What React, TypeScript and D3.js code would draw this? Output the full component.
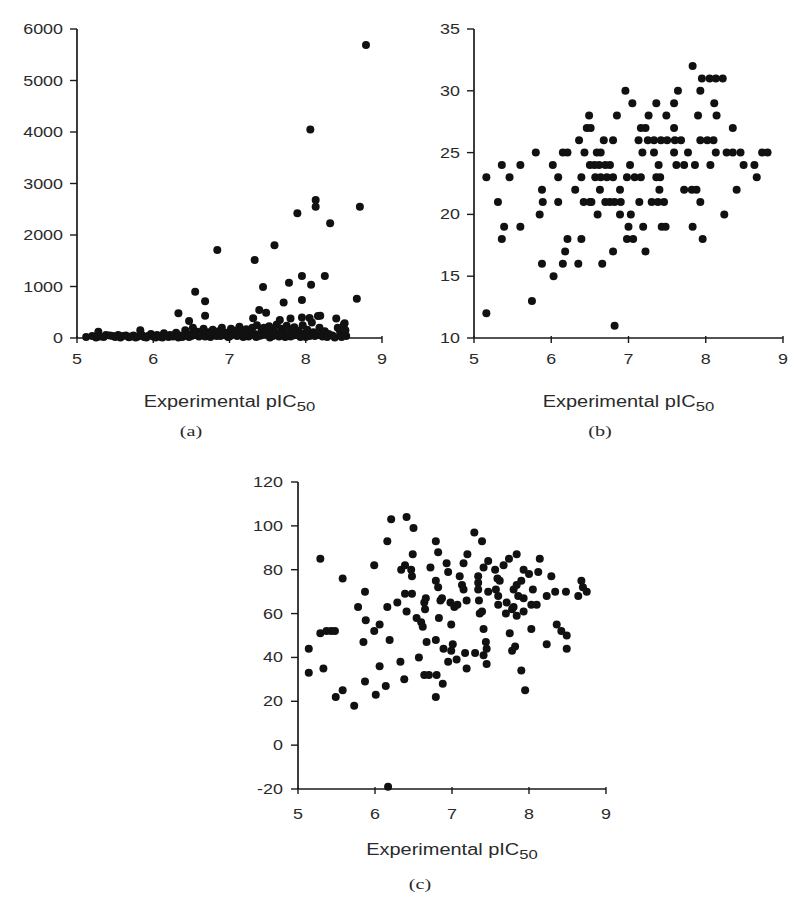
import React from "react";
import * as d3 from "d3";

// ---------- DATA ----------
const xTicks = [5, 6, 7, 8, 9];
const aYTicks = [0, 1000, 2000, 3000, 4000, 5000, 6000];
const bYTicks = [10, 15, 20, 25, 30, 35];
const cYTicks = [-20, 0, 20, 40, 60, 80, 100, 120];

const aPoints: [number, number][] = [
  [8.79, 5690], [8.06, 4050], [8.13, 2680], [8.13, 2550], [8.71, 2550], [7.89, 2420], [8.32, 2230],
  [6.84, 1710], [7.59, 1800], [7.33, 1515], [6.55, 900], [6.68, 715], [7.44, 990], [7.78, 1075],
  [7.95, 1205], [8.07, 1035], [8.25, 1205], [7.71, 690], [7.95, 740], [8.67, 760], [6.33, 480],
  [6.47, 330], [6.68, 430], [7.39, 545], [7.48, 490], [7.31, 385], [8.4, 380], [8.51, 285],
  [8.16, 425], [7.66, 350], [7.8, 380], [7.95, 400], [8.05, 390], [8.19, 430], [5.28, 120], [5.83, 150],
  [5.12, 20], [5.3, 30], [5.38, 60], [5.43, 50], [5.5, 20], [5.54, 60], [5.6, 40], [5.68, 15],
  [5.74, 50], [5.8, 30], [5.88, 20], [5.93, 40], [5.97, 80], [6.0, 30], [6.05, 60], [6.1, 20],
  [6.14, 90], [6.18, 40], [6.22, 60], [6.26, 30], [6.3, 100], [6.35, 50], [6.38, 20], [6.42, 150],
  [6.45, 80], [6.5, 40], [6.52, 200], [6.55, 60], [6.58, 120], [6.6, 30], [6.63, 90], [6.66, 180],
  [6.7, 50], [6.72, 110], [6.75, 20], [6.78, 160], [6.8, 70], [6.83, 40], [6.86, 130], [6.9, 200],
  [6.93, 60], [6.96, 100], [7.0, 30], [7.02, 180], [7.05, 80], [7.08, 140], [7.1, 40], [7.13, 220],
  [7.16, 100], [7.2, 60], [7.22, 170], [7.25, 30], [7.28, 120], [7.3, 200], [7.33, 80], [7.36, 250],
  [7.38, 40], [7.42, 140], [7.45, 200], [7.47, 70], [7.5, 110], [7.52, 230], [7.55, 50], [7.58, 150],
  [7.6, 90], [7.62, 260], [7.65, 30], [7.68, 180], [7.7, 120], [7.72, 60], [7.75, 240], [7.78, 100],
  [7.8, 30], [7.82, 170], [7.85, 210], [7.88, 60], [7.9, 140], [7.93, 20], [7.96, 250], [7.98, 90],
  [8.02, 160], [8.05, 40], [8.08, 300], [8.1, 110], [8.14, 60], [8.18, 200], [8.22, 30], [8.25, 130],
  [8.3, 80], [8.35, 50], [8.42, 200], [8.45, 120], [8.48, 60], [8.5, 260], [8.52, 150],
  [5.2, 40], [5.25, 10], [5.35, 20], [5.47, 40], [5.57, 10], [5.64, 50], [5.71, 30], [5.77, 10],
  [5.85, 60], [5.91, 10], [6.03, 10], [6.08, 40], [6.12, 10], [6.2, 20], [6.28, 60], [6.33, 10],
  [6.4, 40], [6.47, 20], [6.53, 90], [6.62, 70], [6.68, 30], [6.74, 80], [6.88, 40], [6.98, 20],
  [7.12, 70], [7.18, 20], [7.27, 60], [7.35, 20], [7.41, 50], [7.53, 10], [7.57, 40], [7.67, 70],
  [7.73, 20], [7.83, 50], [7.92, 80], [8.0, 20], [8.12, 40], [8.2, 70], [8.28, 20], [8.38, 10],
  [8.47, 20], [8.53, 40],
];

const bPoints: [number, number][] = [
  [5.16, 23], [5.16, 12], [5.36, 24], [5.31, 21], [5.46, 23], [5.39, 19], [5.36, 18], [5.6, 24], [5.6, 19],
  [5.8, 25], [5.75, 13], [5.88, 22], [5.89, 21], [5.85, 20], [5.88, 16], [6.02, 24], [6.03, 15], [6.09, 23],
  [6.09, 21], [6.15, 25], [6.21, 25], [6.21, 18], [6.18, 17], [6.15, 16], [6.31, 22], [6.36, 26], [6.39, 23],
  [6.39, 18], [6.35, 16], [6.43, 25], [6.49, 28], [6.46, 27], [6.51, 27], [6.42, 21], [6.5, 21], [6.52, 21],
  [6.59, 25], [6.64, 25], [6.5, 24], [6.56, 24], [6.62, 24], [6.7, 24], [6.76, 24], [6.57, 23], [6.64, 23],
  [6.72, 23], [6.8, 23], [6.63, 22], [6.6, 20], [6.66, 16],
  [6.96, 30], [7.64, 30], [7.93, 30], [7.05, 29], [7.36, 29], [7.59, 29], [8.11, 29], [6.85, 28], [7.26, 28],
  [7.49, 28], [7.9, 28], [8.14, 28], [7.16, 27], [7.22, 27], [7.59, 27], [8.35, 27], [6.68, 26], [6.8, 26],
  [7.13, 26], [7.25, 26], [7.33, 26], [7.42, 26], [7.5, 26], [7.6, 26], [7.68, 26], [7.93, 26], [8.02, 26],
  [8.1, 26], [7.18, 25], [7.33, 25], [7.59, 25], [7.77, 25], [8.13, 25], [8.27, 25], [8.35, 25], [8.45, 25],
  [8.73, 25], [8.8, 25], [7.02, 24], [7.39, 24], [7.62, 24], [7.72, 24], [7.86, 24], [8.06, 24], [8.49, 24],
  [8.63, 24], [6.98, 23], [7.08, 23], [7.16, 23], [7.36, 23], [7.41, 23], [8.66, 23], [6.89, 22], [7.4, 22],
  [7.72, 22], [7.82, 22], [7.88, 22], [8.4, 22], [6.7, 21], [6.76, 21], [6.82, 21], [6.9, 21], [7.14, 21],
  [7.3, 21], [7.38, 21], [7.46, 21], [7.93, 21], [6.89, 20], [7.03, 20], [8.24, 20], [7.0, 19], [7.19, 19],
  [7.43, 19], [7.48, 19], [7.83, 19], [6.98, 18], [7.06, 18], [7.96, 18], [6.8, 17], [7.22, 17], [6.82, 11],
  [7.83, 32], [7.95, 31], [8.05, 31], [8.13, 31], [8.22, 31],
];

const cPoints: [number, number][] = [
  [5.14, 44], [5.14, 33], [5.29, 85], [5.29, 51], [5.37, 52], [5.43, 52], [5.48, 52], [5.33, 35], [5.58, 76],
  [5.49, 22], [5.58, 25], [5.73, 18], [5.78, 63], [5.87, 70], [5.85, 47], [5.88, 57], [5.87, 29], [5.99, 82],
  [5.99, 52], [6.06, 55], [6.06, 36], [6.01, 23], [6.14, 27], [6.16, 93], [6.21, 103], [6.16, 63], [6.19, 48],
  [6.17, -19], [6.29, 65], [6.33, 38], [6.38, 30], [6.34, 80], [6.39, 82], [6.41, 104], [6.5, 99], [6.49, 87],
  [6.39, 69], [6.48, 69], [6.41, 61], [6.47, 80], [6.48, 77], [6.54, 58], [6.6, 56], [6.62, 54], [6.57, 40],
  [6.64, 65], [6.66, 67], [6.65, 62], [6.67, 47], [6.64, 32], [6.7, 32], [6.72, 81], [6.79, 93], [6.82, 88],
  [6.79, 75], [6.82, 72], [6.85, 66], [6.87, 67], [6.83, 58], [6.79, 48], [6.8, 32], [6.88, 28], [6.79, 22],
  [6.93, 83], [6.95, 79], [6.98, 65], [7.03, 63], [7.07, 64], [6.99, 55], [7.01, 46], [6.99, 43], [6.89, 44],
  [6.95, 38], [7.06, 39], [7.2, 87], [7.19, 35], [7.29, 97], [7.39, 93], [7.15, 83], [7.47, 84], [7.67, 82],
  [7.74, 85], [7.84, 87], [7.1, 77], [7.13, 73], [7.15, 71], [7.34, 77], [7.34, 74], [7.34, 71], [7.41, 81],
  [7.56, 80], [7.59, 76], [7.62, 75], [7.93, 80], [7.9, 75], [7.84, 73], [7.8, 71], [7.19, 66], [7.35, 66],
  [7.47, 70], [7.57, 71], [7.6, 68], [7.71, 65], [7.78, 62], [7.84, 59], [7.93, 61], [7.86, 68], [7.93, 67],
  [7.39, 61], [7.41, 53], [7.44, 47], [7.41, 41], [7.45, 44], [7.75, 51], [7.78, 43], [7.82, 45], [7.17, 42],
  [7.3, 42], [7.45, 37], [7.9, 34], [7.95, 25], [8.14, 85], [8.29, 77], [8.0, 78], [8.12, 79], [8.05, 71],
  [8.23, 68], [8.34, 70], [8.48, 70], [8.68, 75], [8.64, 68], [8.75, 70], [8.7, 72], [7.6, 64], [7.7, 60],
  [7.8, 63], [8.03, 64], [8.1, 64], [8.03, 53], [8.36, 55], [8.42, 52], [8.49, 50], [8.23, 46], [8.49, 44],
  [7.36, 60],
];

// ---------- LAYOUT ----------
const SX = 1.28;
const INK = "#1a1a1a";
const TXT = "#2a2a2a";

type PanelProps = {
  data: [number, number][];
  yTicks: number[];
  xPx: [number, number];
  yPx: [number, number];
  tickLabelY: number;
  titleY: number;
  captionY: number;
  captionX: number;
  caption: string;
  yLabelGap: number;
};

function Panel(p: PanelProps) {
  const x = d3.scaleLinear().domain([5, 9]).range(p.xPx);
  const yDom = d3.extent(p.yTicks) as [number, number];
  const y = d3.scaleLinear().domain(yDom).range(p.yPx);
  const x0 = p.xPx[0], x1 = p.xPx[1];
  const y0 = p.yPx[0], y1 = p.yPx[1];
  const cx = (x0 + x1) / 2;
  return (
    <g>
      <line x1={x0} x2={x1} y1={y0} y2={y0} stroke={INK} strokeWidth={1.7} />
      <line x1={x0} x2={x0} y1={y0} y2={y1} stroke={INK} strokeWidth={1.7} />
      {xTicks.map((t) => (
        <g key={"xt" + t}>
          <line x1={x(t)} x2={x(t)} y1={y0 - 2} y2={y0 + 5} stroke={INK} strokeWidth={1.4} />
          <text
            transform={`translate(${x(t)},${p.tickLabelY}) scale(${SX},1)`}
            textAnchor="middle"
            fontSize={14}
            fontFamily="Liberation Sans, Arial, sans-serif"
            fill={TXT}
          >
            {t}
          </text>
        </g>
      ))}
      {p.yTicks.map((t) => (
        <g key={"yt" + t}>
          <line x1={x0 - 7} x2={x0} y1={y(t)} y2={y(t)} stroke={INK} strokeWidth={1.4} />
          <text
            transform={`translate(${x0 - p.yLabelGap},${y(t) + 5}) scale(${SX},1)`}
            textAnchor="end"
            fontSize={14}
            fontFamily="Liberation Sans, Arial, sans-serif"
            fill={TXT}
          >
            {t}
          </text>
        </g>
      ))}
      {p.data.map((d, i) => (
        <circle key={i} cx={x(d[0])} cy={y(d[1])} r={4} fill="#111" />
      ))}
      <text
        transform={`translate(${cx},${p.titleY}) scale(${SX},1)`}
        textAnchor="middle"
        fontSize={15.6}
        fontFamily="Liberation Sans, Arial, sans-serif"
        fill={TXT}
      >
        Experimental pIC
        <tspan fontSize={13} dy={4}>50</tspan>
      </text>
      <text
        transform={`translate(${p.captionX},${p.captionY}) scale(1.35,1)`}
        textAnchor="middle"
        fontSize={15}
        fontFamily="Liberation Serif, Times New Roman, serif"
        fill={TXT}
      >
        {p.caption}
      </text>
    </g>
  );
}

export default function App() {
  return (
    <svg
      width={806}
      height={903}
      viewBox="0 0 806 903"
      style={{ position: "absolute", left: 0, top: 0, display: "block", background: "#fff" }}
    >
      <rect x={0} y={0} width={806} height={903} fill="#fff" />
      <Panel
        data={aPoints}
        yTicks={aYTicks}
        xPx={[77, 382]}
        yPx={[338, 29]}
        tickLabelY={364}
        titleY={407}
        captionY={436}
        captionX={191}
        caption="(a)"
        yLabelGap={14}
      />
      <Panel
        data={bPoints}
        yTicks={bYTicks}
        xPx={[474, 783]}
        yPx={[338, 29]}
        tickLabelY={364}
        titleY={407}
        captionY={436}
        captionX={600}
        caption="(b)"
        yLabelGap={14}
      />
      <Panel
        data={cPoints}
        yTicks={cYTicks}
        xPx={[298, 606]}
        yPx={[789, 482]}
        tickLabelY={819}
        titleY={855}
        captionY={889}
        captionX={420}
        caption="(c)"
        yLabelGap={15}
      />
    </svg>
  );
}
